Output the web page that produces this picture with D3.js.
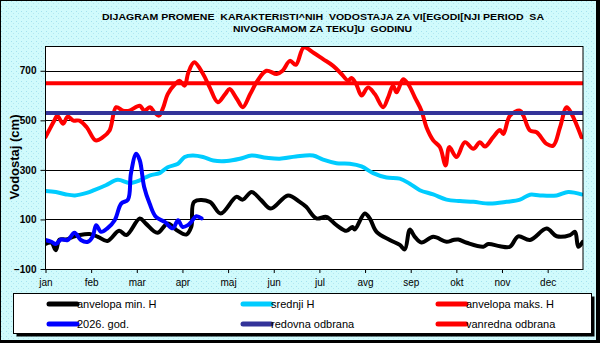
<!DOCTYPE html>
<html>
<head>
<meta charset="utf-8">
<script src="https://cdn.jsdelivr.net/npm/d3@7"></script>
<style>
  body { margin: 0; background: #fff; }
  svg { display: block; font-family: Arial, "Liberation Sans", sans-serif; }
</style>
</head>
<body>
<div id="chart"></div>
<script>
const W = 600, H = 343;
const plot = {left: 45.5, right: 583, top: 46, bottom: 269};

// month tick labels (Excel date axis, major unit 31 days)
const months = ["jan", "feb", "mar", "apr", "maj", "jun", "jul", "avg", "sep", "okt", "nov", "dec"];
const tickDays = months.map((m, i) => i * 31);
const yTicks = [-100, 100, 300, 500, 700];

// [day of year, water level cm]
const minH = [[0,1],[4,6],[7,-24],[9.5,19],[14,19],[18.6,30],[23,37],[30,41],[35.6,30],[42,13],[50,54],[55,37],[64,104],[68,84],[76,46],[83,84],[89,57],[95.6,39],[99,70],[101,171],[111.5,171],[119,124],[129.6,191],[134,180],[140,211],[146.6,177],[153,144],[164.7,197],[172.6,171],[177,151],[184,104],[190.8,110],[197.6,77],[204.4,54],[208.5,70],[210,59],[216.8,124],[220.2,104],[224.8,50],[233.8,17],[240.6,-3],[244,-21],[247.4,59],[250.8,30],[255.3,7],[263.3,30],[272.3,10],[276.9,17],[280.3,19],[286,6],[297.3,-10],[300.7,1],[308.6,-8],[315.4,-10],[321,32],[329,17],[340.3,63],[347.1,32],[356.2,37],[359.6,50],[361.8,-10],[364.8,10]];

const meanH = [[0,215],[7,211],[14,201],[20,197],[28,207],[33,218],[41,238],[49,260],[57,247],[64,258],[71,278],[77.5,287],[83,311],[90,325],[94.5,352],[100,358],[107,352],[114,338],[123,336],[132,345],[140,358],[150,349],[159,345],[170,354],[181.7,358],[188.5,341],[197.6,327],[206.6,325],[214.6,314],[222.5,287],[231.6,269],[240.6,265],[247.4,244],[254.2,218],[263.3,201],[272.3,180],[281.4,174],[290.5,171],[301.8,164],[313.1,171],[322.2,180],[329,200],[335.8,197],[347.1,197],[355,211],[364,201]];

const maxH = [[0,432],[6,499],[8,519],[12,486],[15,515],[19,499],[23,499],[28,472],[34,419],[39,432],[43.5,459],[48,553],[52.6,539],[57,539],[64,559],[67,539],[71,553],[74,532],[77,519],[80,553],[83,606],[88,646],[91,660],[94.5,640],[97,693],[101,734],[107,687],[111.5,633],[117,573],[122,606],[125,626],[130,586],[134,553],[139,606],[144,660],[150,700],[157,687],[161,700],[166,740],[170,724],[175.4,794],[181.7,774],[188.5,747],[195.3,720],[201,687],[205.5,660],[207.8,671],[211,646],[214.6,600],[219,633],[223.6,606],[229.3,553],[232.7,593],[236,640],[238.4,613],[242.9,666],[246.3,646],[250.8,593],[255.3,539],[258.7,472],[263.3,419],[267.8,392],[271.7,318],[274.2,392],[279.1,352],[284.8,412],[290.5,385],[295,412],[298.4,394],[304,432],[308.6,461],[310.9,445],[315.4,519],[322.2,539],[324.5,519],[329,459],[333.5,452],[340.3,405],[344.8,398],[349.4,472],[353.9,553],[357.3,526],[364,432]];

const year2026 = [[0,17],[4,10],[7,1],[10.6,19],[15,17],[19.7,46],[24,17],[28.8,10],[32,30],[34.4,77],[37.8,50],[42,64],[47,97],[51.4,164],[56,180],[58,285],[61.6,365],[64,339],[67,231],[70.7,164],[75,110],[81,90],[86.5,64],[90,97],[93,70],[96.7,77],[99,90],[102.4,113],[106,104]];

const redovna = 530;
const vanredna = 650;

const series = [
  {name: "anvelopa min. H", color: "#000000", data: minH},
  {name: "srednji H", color: "#00ccff", data: meanH},
  {name: "anvelopa maks. H", color: "#ff0000", data: maxH},
  {name: "2026. god.", color: "#0000ff", data: year2026},
  {name: "redovna odbrana", color: "#333399", data: [[0, redovna], [365, redovna]]},
  {name: "vanredna odbrana", color: "#ff0000", data: [[0, vanredna], [365, vanredna]]}
];

const svg = d3.select("#chart").append("svg")
  .attr("width", W)
  .attr("height", H);

// dotted cyan background
const defs = svg.append("defs");
const pat = defs.append("pattern")
  .attr("id", "dots")
  .attr("width", 5).attr("height", 5)
  .attr("patternUnits", "userSpaceOnUse");
pat.append("rect").attr("width", 5).attr("height", 5).attr("fill", "#d0fafc");
pat.append("rect").attr("x", 1).attr("y", 1).attr("width", 1).attr("height", 1).attr("fill", "#a4e2ee");
pat.append("rect").attr("x", 3).attr("y", 3).attr("width", 1).attr("height", 1).attr("fill", "#b2e8f2");

svg.append("rect").attr("width", W).attr("height", H).attr("fill", "#000");
svg.append("rect").attr("x", 1).attr("y", 1).attr("width", 595).attr("height", 339).attr("fill", "url(#dots)");

// title
const title = svg.append("g").attr("font-weight", "bold").attr("font-size", "9.6px").attr("fill", "#000");
title.append("text").attr("x", 102).attr("y", 20)
  .attr("xml:space", "preserve")
  .attr("textLength", 442).attr("lengthAdjust", "spacingAndGlyphs")
  .text("DIJAGRAM PROMENE  KARAKTERISTI^NIH  VODOSTAJA ZA VI[EGODI[NJI PERIOD  SA");
title.append("text").attr("x", 233).attr("y", 32)
  .attr("xml:space", "preserve")
  .attr("textLength", 179).attr("lengthAdjust", "spacingAndGlyphs")
  .text("NIVOGRAMOM ZA TEKU]U  GODINU");

// plot area
svg.append("rect")
  .attr("x", plot.left).attr("y", plot.top)
  .attr("width", plot.right - plot.left).attr("height", plot.bottom - plot.top)
  .attr("fill", "#fff");

const x = d3.scaleLinear().domain([0, 365]).range([plot.left, plot.right]);
const y = d3.scaleLinear().domain([-100, 800]).range([plot.bottom, plot.top]);

// gridlines
svg.append("g")
  .selectAll("line")
  .data(yTicks.filter(d => d > -100))
  .enter()
  .append("line")
  .attr("x1", plot.left).attr("x2", plot.right)
  .attr("y1", d => Math.round(y(d)) + 0.5).attr("y2", d => Math.round(y(d)) + 0.5)
  .attr("stroke", "#000").attr("stroke-width", 1);

const clip = defs.append("clipPath").attr("id", "clip");
clip.append("rect")
  .attr("x", plot.left).attr("y", plot.top)
  .attr("width", plot.right - plot.left).attr("height", plot.bottom - plot.top);

const line = d3.line()
  .x(d => x(d[0]))
  .y(d => y(d[1]))
  .curve(d3.curveCatmullRom.alpha(0.5));

svg.append("g").attr("clip-path", "url(#clip)")
  .selectAll("path")
  .data(series)
  .enter()
  .append("path")
  .attr("d", d => line(d.data))
  .attr("fill", "none")
  .attr("stroke", d => d.color)
  .attr("stroke-width", 4)
  .attr("stroke-linejoin", "round")
  .attr("stroke-linecap", "round");

// plot border
svg.append("rect")
  .attr("x", plot.left).attr("y", plot.top + 0.5)
  .attr("width", plot.right - plot.left).attr("height", plot.bottom - plot.top)
  .attr("fill", "none").attr("stroke", "#000").attr("stroke-width", 1);

// axes
const yAxis = svg.append("g")
  .attr("transform", `translate(${plot.left},0)`)
  .call(d3.axisLeft(y).tickValues(yTicks).tickSize(5).tickPadding(4));
yAxis.select(".domain").remove();
yAxis.selectAll("text").attr("font-size", "10px").attr("font-weight", "bold").attr("font-family", "Arial, sans-serif");

const xAxis = svg.append("g")
  .attr("transform", `translate(0,${plot.bottom})`)
  .call(d3.axisBottom(x).tickValues(tickDays).tickFormat((d, i) => months[i]).tickSize(4).tickPadding(6));
xAxis.select(".domain").remove();
xAxis.selectAll("text").attr("font-size", "10px").attr("font-family", "Arial, sans-serif");

svg.append("text")
  .attr("transform", "translate(19,157) rotate(-90)")
  .attr("text-anchor", "middle")
  .attr("font-size", "13px")
  .attr("font-weight", "bold")
  .text("Vodostaj (cm)");

// legend
const legend = svg.append("g");
legend.append("rect").attr("x", 16.5).attr("y", 296.5).attr("width", 578).attr("height", 40).attr("fill", "#000");
legend.append("rect").attr("x", 13.5).attr("y", 293.5).attr("width", 578).attr("height", 40)
  .attr("fill", "#fff").attr("stroke", "#000");

const colX = [49, 243, 438];
const rowY = [304, 324];

const items = legend.selectAll("g.item")
  .data(series)
  .enter()
  .append("g")
  .attr("transform", (d, i) => `translate(${colX[i % 3]},${rowY[Math.floor(i / 3)]})`);

items.append("line")
  .attr("x1", 0).attr("x2", 28)
  .attr("stroke", d => d.color).attr("stroke-width", 5).attr("stroke-linecap", "round");

items.append("text")
  .attr("x", 28)
  .attr("dy", "0.35em")
  .attr("font-size", "11px")
  .text(d => d.name);
</script>
</body>
</html>
